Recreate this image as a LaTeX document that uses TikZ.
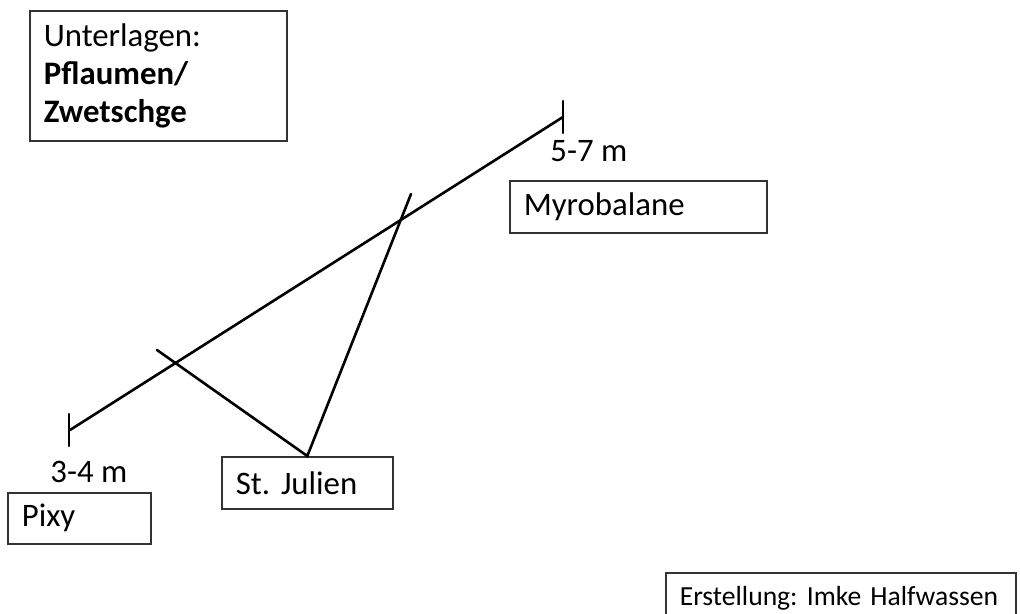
\documentclass[tikz,border=0pt]{standalone}
\usepackage{fontspec}
\setmainfont{Carlito}
\usepackage{tikz}
\usetikzlibrary{positioning, calc}
\frenchspacing

\begin{document}
\begin{tikzpicture}[
    x=0.5pt, y=-0.5pt,
    box/.style={draw=black!80, line width=0.8pt, anchor=north west, align=left,
                inner xsep=7pt, inner ysep=0pt, font=\fontsize{16.4}{19}\selectfont},
    lbl/.style={anchor=base west, inner sep=0pt, font=\fontsize{16.4}{19}\selectfont},
    twig/.style={line width=1.3pt, line cap=round}
]
\useasboundingbox (0,0) rectangle (1020,614);
% Legend box and the three rootstocks
\node[box, text width=114.5pt, minimum height=65pt] (unterlagen) at (29,10)
    {Unterlagen:\\\textbf{Pflaumen/}\\\textbf{Zwetschge}};
\node[box, text width=114.5pt, minimum height=26pt] (myro)   at (509,180) {Myrobalane};
\node[box, text width=71.5pt,  minimum height=26pt] (julien) at (221,456) {St. Julien};
\node[box, text width=57.5pt,  minimum height=25.5pt] (pixy) at (7,492)   {Pixy};
\node[box, text width=161pt, minimum height=25pt,
      font=\fontsize{13.8}{16}\selectfont] (credit) at (665,572) {Erstellung: Imke Halfwassen};
% Height scale with end ticks
\coordinate (lo) at (70,430);
\coordinate (hi) at (563,117);
\coordinate (lotop) at (69,414);
\coordinate (lobot) at (69,446);
\coordinate (hitop) at (563,101);
\coordinate (hibot) at (563,133);
\node[lbl] (lolbl) at (50,482)  {3-4 m};
\node[lbl] (hilbl) at (550,162) {5-7 m};
\draw[twig] (lo) -- (hi);
\draw[twig] (lotop) -- (lobot);
\draw[twig] (hitop) -- (hibot);
% St. Julien spans between the two crossings
\coordinate (xa) at (157,350);
\coordinate (xb) at (411,194);
\draw[twig] (xa) -- (julien.north) -- (xb);
\end{tikzpicture}
\end{document}
